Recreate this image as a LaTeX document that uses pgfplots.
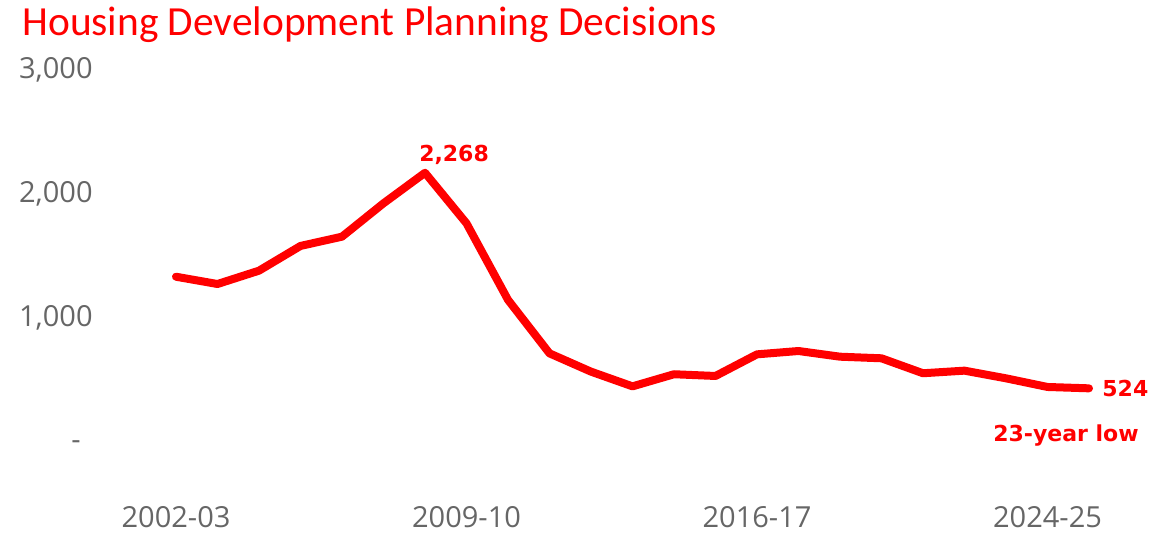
\documentclass[border=0pt]{standalone}
\usepackage{pgfplots}
\pgfplotsset{compat=1.18}
\usepackage{fontspec}
\setmainfont{Open Sans}
\newfontfamily\titlefont{Carlito}
\newfontfamily\annfont{DejaVu Sans}
\definecolor{chartred}{HTML}{FF0000}
\definecolor{ticktext}{HTML}{666666}
\begin{document}
\begin{tikzpicture}
\begin{axis}[
  scale only axis, width=456.5bp, height=185.4bp,
  xmin=0, xmax=22, ymin=0, ymax=3000,
  axis line style={draw=none}, major tick length=0pt,
  xtick={0,7,14,21}, xticklabels={2002-03,2009-10,2016-17,2024-25},
  ytick={0,1000,2000,3000}, yticklabels={{-\rule{6bp}{0pt}},{1,000},{2,000},{3,000}},
  ticklabel style={font=\fontsize{14.5bp}{16bp}\selectfont, text=ticktext, inner sep=0pt},
  yticklabel style={anchor=base east, xshift=-41.5bp, yshift=1.75bp},
  xticklabel style={anchor=north, yshift=-26.7bp},
  clip=false,
]
\addplot[chartred, line width=4bp, line join=round, line cap=round] table {
x y
0 1427
1 1368
2 1476
3 1676
4 1751
5 2021
6 2268
7 1859
8 1240
9 807
10 659
11 540
12 638
13 624
14 799
15 826
16 780
17 767
18 646
19 667
20 605
21 535
22 524
};
\node[font=\annfont\bfseries\fontsize{11bp}{13bp}\selectfont, text=chartred, anchor=center, inner sep=0pt, yshift=8.85bp] at (axis cs:6.7,2268) {2,268};
\node[font=\annfont\bfseries\fontsize{11bp}{13bp}\selectfont, text=chartred, anchor=west, inner sep=0pt, xshift=6.5bp] at (axis cs:22,524) {524};
\node[font=\annfont\bfseries\fontsize{11bp}{13bp}\selectfont, text=chartred, anchor=base, inner sep=0pt, xshift=-11.5bp, yshift=-26.35bp] at (axis cs:22,524) {23-year low};
\node[font=\titlefont\fontsize{20.7bp}{24bp}\selectfont, text=chartred, anchor=base west, inner sep=0pt, xshift=-77bp, yshift=23.5bp] at (rel axis cs:0,1) {Housing Development Planning Decisions};
\end{axis}
\path ([xshift=-88bp,yshift=-40.45bp]current axis.south west) rectangle ([xshift=41bp,yshift=41.15bp]current axis.north east);
\end{tikzpicture}
\end{document}
